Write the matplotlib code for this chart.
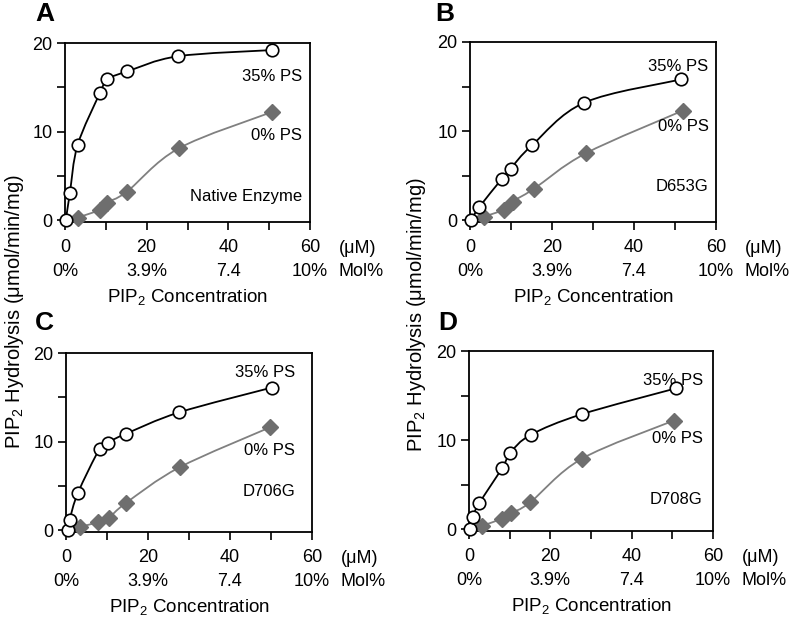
import matplotlib
matplotlib.use('Agg')
import matplotlib.pyplot as plt
from matplotlib.path import Path
from matplotlib.patches import PathPatch

plt.rcParams['font.family'] = ['Liberation Sans', 'DejaVu Sans']
plt.rcParams['mathtext.fontset'] = 'custom'
plt.rcParams['mathtext.rm'] = 'Liberation Sans'
plt.rcParams['mathtext.it'] = 'Liberation Sans:italic'

# PIP2 concentration (uM) and hydrolysis (umol/min/mg)
# A - native enzyme
a_x35 = [0.2, 1.2, 3.1, 8.6, 10.4, 15.3, 27.6, 50.6]
a_y35 = [0.0, 3.1, 8.5, 14.4, 15.9, 16.8, 18.5, 19.2]
a_x0 = [3.1, 8.6, 10.2, 15.1, 27.8, 50.6]
a_y0 = [0.3, 1.2, 2.0, 3.2, 8.1, 12.2]
# B - D653G
b_x35 = [0.2, 2.3, 7.7, 9.9, 15.1, 27.9, 51.5]
b_y35 = [0.0, 1.5, 4.6, 5.8, 8.4, 13.2, 15.8]
b_x0 = [3.4, 8.3, 10.4, 15.5, 28.2, 51.9]
b_y0 = [0.4, 1.2, 2.1, 3.5, 7.5, 12.3]
# C - D706G
c_x35 = [0.4, 0.9, 2.9, 8.2, 10.2, 14.7, 27.6, 50.2]
c_y35 = [0.0, 1.2, 4.2, 9.2, 9.9, 10.9, 13.3, 16.1]
c_x0 = [3.5, 7.8, 10.4, 14.7, 27.7, 49.7]
c_y0 = [0.4, 0.9, 1.4, 3.1, 7.1, 11.6]
# D - D708G
d_x35 = [0.2, 0.9, 2.5, 8.2, 10.2, 15.2, 27.7, 50.8]
d_y35 = [0.0, 1.4, 2.9, 6.9, 8.6, 10.6, 12.9, 15.8]
d_x0 = [3.3, 8.2, 10.3, 15.0, 27.7, 50.4]
d_y0 = [0.4, 1.2, 1.8, 3.0, 7.9, 12.2]

panels = ['A', 'B', 'C', 'D']
enzymes = ['Native Enzyme', 'D653G', 'D706G', 'D708G']
series = [(a_x35, a_y35, a_x0, a_y0), (b_x35, b_y35, b_x0, b_y0),
          (c_x35, c_y35, c_x0, c_y0), (d_x35, d_y35, d_x0, d_y0)]
# label positions (data coords) for 35% PS, 0% PS and enzyme name
label_pos = [((58, 16.2), (58, 9.6), (58, 2.7)),
             ((58.2, 17.2), (58.2, 10.5), (58.2, 3.8)),
             ((55.9, 17.8), (55.9, 9.0), (55.9, 4.4)),
             ((57.5, 16.7), (57.5, 10.2), (57.5, 3.3))]

uM_ticks = [0, 20, 40, 60]
mol_labels = ['0%', '3.9%', '7.4', '10%']

W, H = 800, 622
boxes = [(65, 310, 43, 222), (470, 716, 42, 222), (66, 312, 353, 532), (469, 713, 351, 531)]
letter_xy = [(35, 2), (435, 2), (35, 311), (438, 311)]


def smooth_path(xs, ys):
    # catmull-rom through the points, drawn as cubic bezier segments
    pts = list(zip(xs, ys))
    verts = [pts[0]]
    codes = [Path.MOVETO]
    n = len(pts)
    for i in range(n - 1):
        p0 = pts[max(i - 1, 0)]
        p1 = pts[i]
        p2 = pts[i + 1]
        p3 = pts[min(i + 2, n - 1)]
        c1 = (p1[0] + (p2[0] - p0[0]) / 6, p1[1] + (p2[1] - p0[1]) / 6)
        c2 = (p2[0] - (p3[0] - p1[0]) / 6, p2[1] - (p3[1] - p1[1]) / 6)
        verts += [c1, c2, p2]
        codes += [Path.CURVE4] * 3
    return Path(verts, codes)


fig = plt.figure(figsize=(8, 6.22), dpi=100)
gray = '#6e6e6e'

for i, (l, r, t, b) in enumerate(boxes):
    ax = fig.add_axes([l / W, 1 - b / H, (r - l) / W, (b - t) / H])
    x35, y35, x0, y0 = series[i]
    ax.add_patch(PathPatch(smooth_path(x0, y0), fc='none', ec='#808080', lw=1.3, zorder=2))
    ax.plot(x0, y0, 'D', color=gray, ms=8.5, mec=gray, lw=0, zorder=3, clip_on=False)
    ax.add_patch(PathPatch(smooth_path(x35, y35), fc='none', ec='black', lw=1.3, zorder=4,
                           clip_on=False))
    ax.plot(x35, y35, 'o', mfc='white', mec='black', mew=1.2, ms=9, lw=0, zorder=5, clip_on=False)
    ax.set_xlim(0, 60)
    ax.set_ylim(-0.2, 20)
    ax.set_xticks(uM_ticks)
    ax.set_xticks([10, 30, 50], minor=True)
    ax.set_yticks([0, 10, 20])
    ax.set_yticks([5, 15], minor=True)
    ax.tick_params(direction='out', length=6, width=1.2, labelsize=13, pad=3)
    ax.tick_params(axis='x', pad=6)
    ax.tick_params(which='minor', direction='out', length=6, width=1.2)
    for s in ax.spines.values():
        s.set_linewidth(1.3)
    # second row of tick labels (mol %)
    for v, lab in zip(uM_ticks, mol_labels):
        ax.annotate(lab, xy=(v, 0), xycoords=('data', 'axes fraction'),
                    xytext=(0, -35.5), textcoords='offset points',
                    ha='center', va='center', fontsize=13, annotation_clip=False)
    ax.annotate('(\u03bcM)', xy=(67, 0), xycoords=('data', 'axes fraction'),
                xytext=(0, -19), textcoords='offset points',
                ha='left', va='center', fontsize=13, annotation_clip=False)
    ax.annotate('Mol%', xy=(67, 0), xycoords=('data', 'axes fraction'),
                xytext=(0, -35.5), textcoords='offset points',
                ha='left', va='center', fontsize=13, annotation_clip=False)
    ax.annotate(r'PIP$_2$ Concentration', xy=(0.5, 0), xycoords='axes fraction',
                xytext=(0, -54), textcoords='offset points',
                ha='center', va='center', fontsize=13.5, annotation_clip=False)
    p35, p0, pe = label_pos[i]
    ax.text(p35[0], p35[1], '35% PS', ha='right', va='center', fontsize=12)
    ax.text(p0[0], p0[1], '0% PS', ha='right', va='center', fontsize=12)
    ax.text(pe[0], pe[1], enzymes[i], ha='right', va='center', fontsize=12)
    lx, ly = letter_xy[i]
    fig.text(lx / W, 1 - ly / H, panels[i], ha='left', va='top', fontsize=19, fontweight='bold')

ylab = 'PIP$_2$ Hydrolysis (\u03bcmol/min/mg)'
fig.text(15 / W, 1 - 312 / H, ylab, rotation=90, ha='center', va='center', fontsize=14.5)
fig.text(416 / W, 1 - 315 / H, ylab, rotation=90, ha='center', va='center', fontsize=14.5)

fig.savefig('out.png', dpi=100)
